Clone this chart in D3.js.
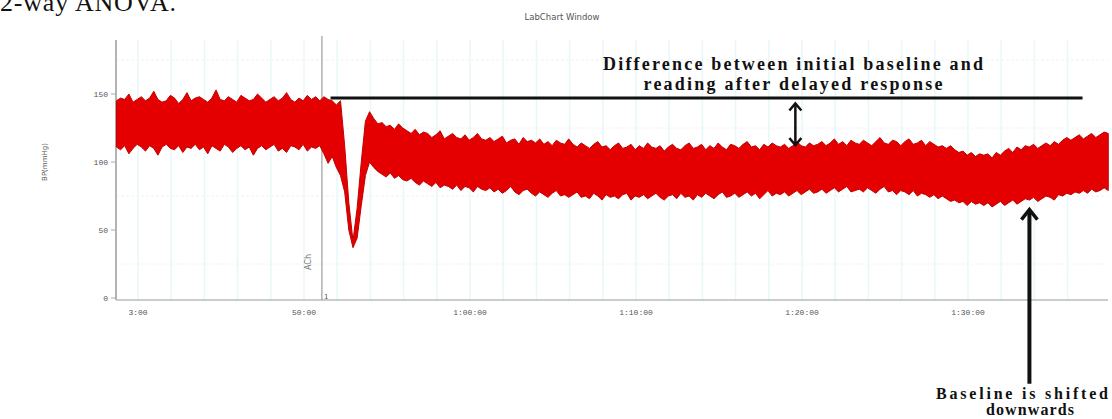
<!DOCTYPE html>
<html>
<head>
<meta charset="utf-8">
<script src="https://cdn.jsdelivr.net/npm/d3@7"></script>
<style>
  html, body { margin: 0; padding: 0; background: #fff; }
  svg { display: block; }
</style>
</head>
<body>
<svg id="chart" width="1112" height="419"></svg>
<script>
const startMinute = 38.7;
const stepMinute = 0.25;

// upper edge of the pressure band (mmHg)
const upperBP = [
  145,147,146,150,144,146,148,145,147,152,
  146,144,145,149,147,143,146,151,145,147,
  148,146,144,147,153,146,145,148,146,144,
  149,147,145,146,150,147,144,146,148,145,
  147,151,146,144,147,145,149,146,148,145,
  148,146,145,142,145,112,70,42,66,100,
  130,137,132,128,129,126,127,124,128,125,
  123,121,124,120,122,121,118,120,123,117,
  119,121,118,117,120,116,118,121,117,116,
  118,115,117,119,114,116,117,113,118,115,
  116,114,117,113,115,112,116,114,113,117,
  113,111,114,112,110,113,115,111,112,109,
  112,114,110,111,113,109,112,110,114,111,
  110,112,108,111,113,110,109,112,114,110,
  111,113,109,112,110,114,111,109,113,112,
  110,113,115,111,112,109,113,111,114,112,
  111,113,110,112,115,112,111,114,112,113,
  115,112,114,117,113,115,112,116,114,113,
  116,114,112,115,118,114,113,116,115,112,
  115,117,113,114,116,112,115,113,111,112,
  110,112,109,107,108,105,107,104,106,105,
  106,103,107,105,108,110,107,111,109,112,
  111,113,110,112,114,112,115,113,116,118,
  116,118,120,117,119,121,118,120,122,121
];

// lower edge of the pressure band (mmHg)
const lowerBP = [
  111,109,112,106,110,113,111,108,112,110,
  105,111,113,110,109,112,107,111,110,113,
  109,111,106,112,110,108,113,111,107,110,
  112,109,111,105,110,112,109,111,113,108,
  110,107,112,111,109,113,108,111,110,112,
  106,99,104,96,90,78,50,37,44,68,
  90,100,96,93,91,89,92,88,90,87,
  86,88,85,83,86,84,82,85,81,83,
  82,80,83,79,82,81,78,82,80,79,
  81,78,80,77,79,82,78,76,79,80,
  77,75,78,76,74,77,79,75,76,74,
  76,78,74,75,73,77,75,72,76,74,
  75,73,76,77,72,75,74,76,73,75,
  77,74,72,75,76,73,77,74,75,72,
  76,74,77,75,73,76,78,74,75,77,
  74,76,78,75,77,73,76,79,75,77,
  76,78,75,77,79,76,78,80,77,78,
  80,77,79,81,78,80,82,78,79,80,
  78,81,79,77,80,82,78,79,76,79,
  78,76,79,75,77,76,74,76,73,75,
  73,71,72,70,71,68,71,69,70,68,
  70,67,69,71,68,70,72,69,71,73,
  72,74,71,73,75,74,72,76,75,77,
  76,78,77,79,77,80,78,79,81,79
];

const xTickMinutes = [40, 50, 60, 70, 80, 90];
const xTickLabels = ['3:00', '50:00', '1:00:00', '1:10:00', '1:20:00', '1:30:00'];
const yTicks = [0, 50, 100, 150];

// annotations
const commentMinute = 51.08;
const baselineLevel = 147;
const baselineFrom = 51.6, baselineTo = 96.9;
const diffArrowMinute = 79.6;
const diffArrowFrom = 143, diffArrowTo = 112.5;
const shiftArrowMinute = 93.7;
const shiftArrowTop = 65, shiftArrowBottom = -63;

const plot = { left: 116, right: 1108, top: 40, bottom: 300 };

const svg = d3.select('#chart');

const x = d3.scaleLinear().domain([40, 90]).range([138, 968]);
const y = d3.scaleLinear().domain([0, 150]).range([298, 94]);

const trace = upperBP.map((u, i) => ({ t: startMinute + i * stepMinute, hi: u, lo: lowerBP[i] }));

// page text cut off above the screenshot
svg.append('text')
  .attr('x', 0).attr('y', 11)
  .attr('font-family', 'Liberation Serif, serif')
  .attr('font-size', 26)
  .attr('textLength', 176)
  .attr('fill', '#111')
  .text('2-way ANOVA.');

svg.append('text')
  .attr('x', 562).attr('y', 20)
  .attr('text-anchor', 'middle')
  .attr('font-family', 'DejaVu Sans, sans-serif')
  .attr('font-size', 8.5)
  .attr('fill', '#555')
  .text('LabChart Window');

// grid
const grid = svg.append('g');
grid.selectAll('line.v')
  .data(d3.range(40, 98, 2))
  .join('line')
  .attr('x1', d => x(d)).attr('x2', d => x(d))
  .attr('y1', plot.top).attr('y2', plot.bottom)
  .attr('stroke', '#e8f8f8')
  .attr('stroke-width', 1.5);

grid.selectAll('line.h')
  .data([25, 75, 125, 175])
  .join('line')
  .attr('x1', plot.left).attr('x2', plot.right)
  .attr('y1', d => y(d)).attr('y2', d => y(d))
  .attr('stroke', '#f0f4f4')
  .attr('stroke-dasharray', '3,2');

// axes
svg.append('line')
  .attr('x1', plot.left).attr('x2', plot.left)
  .attr('y1', plot.top).attr('y2', plot.bottom)
  .attr('stroke', '#9a9a9a').attr('stroke-width', 1.5);
svg.append('line')
  .attr('x1', plot.left).attr('x2', plot.right)
  .attr('y1', plot.bottom).attr('y2', plot.bottom)
  .attr('stroke', '#bbb').attr('stroke-width', 1.5);

svg.append('line')
  .attr('x1', x(commentMinute)).attr('x2', x(commentMinute))
  .attr('y1', plot.top - 4).attr('y2', plot.bottom)
  .attr('stroke', '#8a8a8a').attr('stroke-width', 1);

const yAxis = svg.append('g');
yAxis.selectAll('text')
  .data(yTicks)
  .join('text')
  .attr('x', 108).attr('y', d => y(d) + 3)
  .attr('text-anchor', 'end')
  .attr('font-family', 'Liberation Mono, monospace')
  .attr('font-size', 8)
  .attr('fill', '#555')
  .text(d => d);
yAxis.selectAll('line')
  .data(yTicks)
  .join('line')
  .attr('x1', 111).attr('x2', plot.left)
  .attr('y1', d => y(d)).attr('y2', d => y(d))
  .attr('stroke', '#aaa');

svg.append('text')
  .attr('transform', 'translate(47,162) rotate(-90)')
  .attr('text-anchor', 'middle')
  .attr('font-family', 'DejaVu Sans, sans-serif')
  .attr('font-size', 7)
  .attr('fill', '#555')
  .text('BP(mmHg)');

svg.append('g').selectAll('text')
  .data(xTickMinutes)
  .join('text')
  .attr('x', d => x(d)).attr('y', 315)
  .attr('text-anchor', 'middle')
  .attr('font-family', 'Liberation Mono, monospace')
  .attr('font-size', 8)
  .attr('fill', '#555')
  .text((d, i) => xTickLabels[i]);

// comment marker
svg.append('text')
  .attr('transform', `translate(${x(commentMinute) - 11},262) rotate(-90)`)
  .attr('text-anchor', 'middle')
  .attr('font-family', 'DejaVu Sans, sans-serif')
  .attr('font-size', 8)
  .attr('fill', '#777')
  .text('ACh');
svg.append('text')
  .attr('x', x(commentMinute) + 2).attr('y', 299)
  .attr('font-family', 'DejaVu Sans, sans-serif')
  .attr('font-size', 7)
  .attr('fill', '#555')
  .text('1');

// pressure trace
const area = d3.area()
  .x(d => x(d.t))
  .y0(d => y(d.lo))
  .y1(d => y(d.hi));

svg.append('path')
  .datum(trace)
  .attr('d', area)
  .attr('fill', '#e40000')
  .attr('stroke', '#c00000')
  .attr('stroke-width', 1)
  .attr('stroke-linejoin', 'round');

// annotation: baseline line + double arrow
const ann = svg.append('g').attr('stroke', '#111').attr('fill', 'none');
ann.append('line')
  .attr('x1', x(baselineFrom)).attr('x2', x(baselineTo))
  .attr('y1', y(baselineLevel)).attr('y2', y(baselineLevel))
  .attr('stroke-width', 3);

const ax = x(diffArrowMinute), ay1 = y(diffArrowFrom), ay2 = y(diffArrowTo);
ann.append('line')
  .attr('x1', ax).attr('x2', ax).attr('y1', ay1 + 1).attr('y2', ay2 - 1)
  .attr('stroke-width', 2.5);
ann.append('path')
  .attr('d', `M${ax - 6},${ay1 + 7} L${ax},${ay1} L${ax + 6},${ay1 + 7}`)
  .attr('stroke-width', 2.5);
ann.append('path')
  .attr('d', `M${ax - 6},${ay2 - 7} L${ax},${ay2} L${ax + 6},${ay2 - 7}`)
  .attr('stroke-width', 2.5);

const bx = x(shiftArrowMinute), by1 = y(shiftArrowTop), by2 = y(shiftArrowBottom);
ann.append('line')
  .attr('x1', bx).attr('x2', bx).attr('y1', by1 + 2).attr('y2', by2)
  .attr('stroke-width', 4);
ann.append('path')
  .attr('d', `M${bx - 8},${by1 + 10} L${bx},${by1} L${bx + 8},${by1 + 10}`)
  .attr('stroke-width', 3.5);

const note = svg.append('g')
  .attr('font-family', 'Liberation Serif, serif')
  .attr('font-weight', 'bold')
  .attr('font-size', 18)
  .attr('fill', '#111')
  .attr('text-anchor', 'middle');
note.append('text').attr('x', 793).attr('y', 70)
  .attr('textLength', 380).attr('lengthAdjust', 'spacing')
  .text('Difference between initial baseline and');
note.append('text').attr('x', 793).attr('y', 90)
  .attr('textLength', 299).attr('lengthAdjust', 'spacing')
  .text('reading after delayed response');
note.append('text').attr('x', 1022).attr('y', 399)
  .attr('font-size', 16)
  .attr('textLength', 172).attr('lengthAdjust', 'spacing')
  .text('Baseline is shifted');
note.append('text').attr('x', 1030).attr('y', 415)
  .attr('font-size', 16)
  .attr('textLength', 88).attr('lengthAdjust', 'spacing')
  .text('downwards');
</script>
</body>
</html>
